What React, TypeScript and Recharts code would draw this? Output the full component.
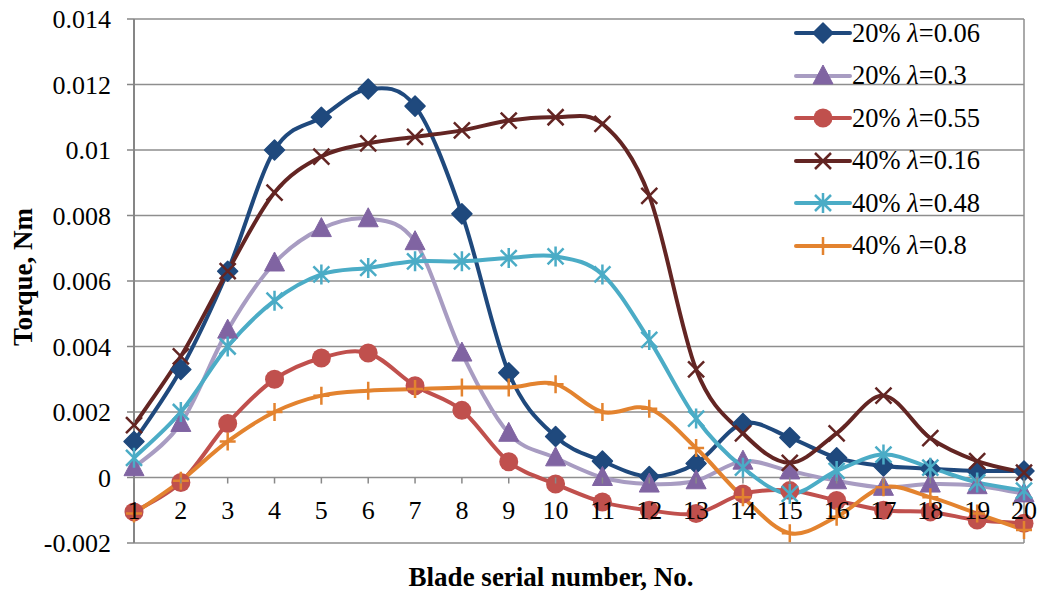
import React from 'react';
import { LineChart, Line, XAxis, YAxis, CartesianGrid, Legend, ReferenceLine } from 'recharts';

const categories = [1, 2, 3, 4, 5, 6, 7, 8, 9, 10, 11, 12, 13, 14, 15, 16, 17, 18, 19, 20];
const yTicks = [-0.002, 0, 0.002, 0.004, 0.006, 0.008, 0.01, 0.012, 0.014];

const s20_006 = [0.0011, 0.0033, 0.0063, 0.0100, 0.0110, 0.01186, 0.01134, 0.00805, 0.0032, 0.00125, 0.0005, 0.00003, 0.00043, 0.00165, 0.00122, 0.0006, 0.00035, 0.00027, 0.0002, 0.0002];
const s20_03 = [0.0003, 0.00165, 0.0045, 0.00655, 0.0076, 0.0079, 0.0072, 0.0038, 0.00135, 0.0006, 0.0, -0.0002, -0.0001, 0.0005, 0.0002, -0.0001, -0.0003, -0.0002, -0.00025, -0.0005];
const s20_055 = [-0.00105, -0.00015, 0.00165, 0.0030, 0.00365, 0.0038, 0.0028, 0.00205, 0.00048, -0.0002, -0.00075, -0.001, -0.0011, -0.0005, -0.0004, -0.0007, -0.001, -0.00105, -0.0013, -0.0014];
const s40_016 = [0.0016, 0.0037, 0.0063, 0.0087, 0.0098, 0.0102, 0.0104, 0.0106, 0.0109, 0.0110, 0.0108, 0.0086, 0.0033, 0.00135, 0.00045, 0.00135, 0.0025, 0.0012, 0.0005, 0.00015];
const s40_048 = [0.0006, 0.002, 0.004, 0.0054, 0.0062, 0.0064, 0.0066, 0.0066, 0.0067, 0.00675, 0.0062, 0.0042, 0.0018, 0.0003, -0.0005, 0.0002, 0.0007, 0.0003, -0.00015, -0.0004];
const s40_08 = [-0.0011, -0.0001, 0.0011, 0.002, 0.0025, 0.00265, 0.0027, 0.00275, 0.00275, 0.00285, 0.002, 0.0021, 0.0009, -0.0006, -0.0017, -0.0012, -0.0003, -0.0006, -0.0011, -0.0016];

const seriesPct = ['20%', '20%', '20%', '40%', '40%', '40%'];
const seriesLambda = ['0.06', '0.3', '0.55', '0.16', '0.48', '0.8'];
const seriesKeys = ['a', 'b', 'c', 'd', 'e', 'f'];
const seriesValues = [s20_006, s20_03, s20_055, s40_016, s40_048, s40_08];
const lineColors = ['#1F497D', '#A89CC2', '#C0504D', '#632523', '#4BACC6', '#E3832F'];
const markerColors = ['#1F497D', '#8064A2', '#C0504D', '#632523', '#4BACC6', '#E3832F'];
const markerKinds = ['diamond', 'triangle', 'circle', 'x', 'star', 'plus'];

const data = categories.map((n, i) => {
  const row: any = { n };
  seriesKeys.forEach((k, j) => { row[k] = seriesValues[j][i]; });
  return row;
});

const FONT = '"Liberation Serif", "Times New Roman", serif';
const TOP = 19;
const BOTTOM = 543;
const Y_MIN = -0.002;
const Y_MAX = 0.014;
const ZERO_Y = TOP + ((BOTTOM - TOP) * (Y_MAX - 0)) / (Y_MAX - Y_MIN);

function excelSmooth(context: any) {
  let pts: number[][] = [];
  return {
    areaStart() {},
    areaEnd() {},
    lineStart() { pts = []; },
    lineEnd() {
      const n = pts.length;
      if (!n) return;
      context.moveTo(pts[0][0], pts[0][1]);
      const t = 1 / 6;
      for (let i = 0; i < n - 1; i++) {
        const p0 = pts[Math.max(i - 1, 0)];
        const p1 = pts[i];
        const p2 = pts[i + 1];
        const p3 = pts[Math.min(i + 2, n - 1)];
        context.bezierCurveTo(
          p1[0] + (p2[0] - p0[0]) * t, p1[1] + (p2[1] - p0[1]) * t,
          p2[0] - (p3[0] - p1[0]) * t, p2[1] - (p3[1] - p1[1]) * t,
          p2[0], p2[1]
        );
      }
    },
    point(x: number, y: number) { pts.push([+x, +y]); },
  };
}

function Marker({ kind, cx, cy, color }: { kind: string; cx: number; cy: number; color: string }) {
  switch (kind) {
    case 'diamond':
      return <path d={`M${cx},${cy - 10}L${cx + 10},${cy}L${cx},${cy + 10}L${cx - 10},${cy}Z`} fill={color} stroke={color} strokeWidth={1.5} strokeLinejoin="round" />;
    case 'triangle':
      return <path d={`M${cx},${cy - 11}L${cx + 10},${cy + 8}L${cx - 10},${cy + 8}Z`} fill={color} stroke={color} strokeWidth={1} strokeLinejoin="round" />;
    case 'circle':
      return <circle cx={cx} cy={cy} r={9.5} fill={color} />;
    case 'x':
      return <path d={`M${cx - 8},${cy - 8}L${cx + 8},${cy + 8}M${cx - 8},${cy + 8}L${cx + 8},${cy - 8}`} stroke={color} strokeWidth={2.5} fill="none" />;
    case 'star':
      return <path d={`M${cx - 8},${cy - 8}L${cx + 8},${cy + 8}M${cx - 8},${cy + 8}L${cx + 8},${cy - 8}M${cx},${cy - 10}L${cx},${cy + 10}`} stroke={color} strokeWidth={2.5} fill="none" />;
    case 'plus':
      return <path d={`M${cx - 8},${cy}L${cx + 8},${cy}M${cx},${cy - 9}L${cx},${cy + 9}`} stroke={color} strokeWidth={2.5} fill="none" />;
    default:
      return null;
  }
}

const makeDot = (j: number) => (props: any) => {
  const { cx, cy, index } = props;
  if (cx == null || cy == null) return <g key={`d${j}-${index}`} />;
  return <g key={`d${j}-${index}`}><Marker kind={markerKinds[j]} cx={cx} cy={cy} color={markerColors[j]} /></g>;
};

const XTick = (props: any) => {
  const { x, payload } = props;
  return (
    <g>
      <line x1={x} x2={x} y1={ZERO_Y} y2={ZERO_Y + 6} stroke="#898989" strokeWidth={1.5} />
      <text x={x} y={ZERO_Y + 33} textAnchor="middle" dominantBaseline="central" fontFamily={FONT} fontSize={26} fill="#000">
        {payload.value}
      </text>
    </g>
  );
};

const LegendContent = () => (
  <div style={{ fontFamily: FONT, fontSize: 26.5, color: '#000' }}>
    {seriesKeys.map((k, j) => (
      <div key={k} style={{ height: 42.5, display: 'flex', alignItems: 'center', whiteSpace: 'nowrap' }}>
        <svg width={58} height={30} style={{ display: 'block' }}>
          <line x1={2} x2={56} y1={15} y2={15} stroke={lineColors[j]} strokeWidth={4} strokeLinecap="round" />
          <Marker kind={markerKinds[j]} cx={29} cy={15} color={markerColors[j]} />
        </svg>
        <span>{seriesPct[j]} <i>λ</i>=<span>{seriesLambda[j]}</span></span>
      </div>
    ))}
  </div>
);

export default function App() {
  return (
    <div style={{ position: 'absolute', left: 0, top: 0, width: 1038, height: 591, background: '#fff' }}>
      <LineChart width={1038} height={591} data={data} margin={{ top: TOP, right: 14, bottom: 0, left: 0 }}>
        <CartesianGrid vertical={false} stroke="#8E8E8E" strokeWidth={1.5} />
        <XAxis
          dataKey="n"
          type="number"
          domain={[1, 20]}
          ticks={categories}
          interval={0}
          axisLine={false}
          tickLine={false}
          tick={<XTick />}
          height={48}
          label={{
            content: () => (
              <text x={551} y={577} textAnchor="middle" dominantBaseline="central" fontFamily={FONT} fontSize={27} fontWeight="bold" fill="#000">
                Blade serial number, No.
              </text>
            ),
          }}
        />
        <YAxis
          type="number"
          domain={[Y_MIN, Y_MAX]}
          ticks={yTicks}
          interval={0}
          width={134}
          tickSize={7}
          tickMargin={16}
          axisLine={{ stroke: '#868686', strokeWidth: 2 }}
          tickLine={{ stroke: '#868686', strokeWidth: 1.5 }}
          tick={{ fontFamily: FONT, fontSize: 26, fill: '#000' }}
          label={{
            content: () => (
              <text x={23} y={277} transform="rotate(-90 23 277)" textAnchor="middle" dominantBaseline="central" fontFamily={FONT} fontSize={27} fontWeight="bold" fill="#000">
                Torque, Nm
              </text>
            ),
          }}
        />
        <ReferenceLine x={20} stroke="#8E8E8E" strokeWidth={1.5} />
        {seriesKeys.map((k, j) => (
          <Line
            key={k}
            dataKey={k}
            name={`${seriesPct[j]} λ=${seriesLambda[j]}`}
            type={excelSmooth as any}
            stroke={lineColors[j]}
            strokeWidth={4}
            dot={makeDot(j)}
            activeDot={false}
            isAnimationActive={false}
          />
        ))}
        <Legend
          layout="vertical"
          align="center"
          verticalAlign="middle"
          content={<LegendContent />}
          wrapperStyle={{ position: 'absolute', left: 794, top: 12, width: 244, height: 260 }}
        />
      </LineChart>
    </div>
  );
}
